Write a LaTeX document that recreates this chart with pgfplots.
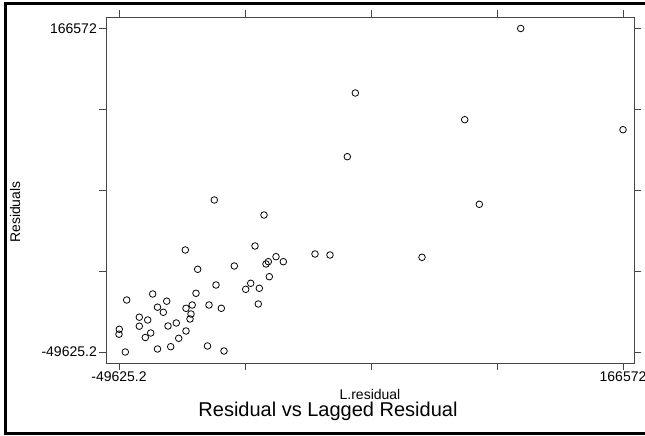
\documentclass[border=0pt]{standalone}
\usepackage{fontspec}
\setmainfont{Liberation Sans}
\usepackage{pgfplots}
\pgfplotsset{compat=1.18}
\definecolor{axgray}{RGB}{70,70,70}

\begin{document}
\begin{tikzpicture}[x=1bp,y=1bp]
\clip (0,0) rectangle (645,436);
\path[use as bounding box] (0,0) rectangle (645,436);
\draw[line width=3bp] (5,2.5) rectangle (660,432.5);
\begin{axis}[at={(106bp,73bp)}, anchor=south west,
  width=528bp, height=346bp, scale only axis,
  xmin=-55201, xmax=171289, ymin=-56977, ymax=174255,
  scaled ticks=false,
  xtick={-49625.2,4424.6,58473.4,112522.2,166572},
  ytick={-49625.2,4424.6,58473.4,112522.2,166572},
  xticklabels={-49625.2,,,,166572},
  yticklabels={-49625.2,,,,166572},
  tick align=outside, xtick pos=both, ytick pos=both,
  major tick length=7bp,
  tick style={axgray, line width=0.8bp},
  axis line style={axgray, line width=0.9bp},
  tick label style={font=\fontsize{14bp}{16bp}\selectfont},
  xticklabel style={inner sep=1.5bp},
  yticklabel style={inner sep=2bp},
  /pgf/number format/assume math mode=true,
  xlabel={L.residual}, ylabel={Residuals},
  every axis x label/.style={at={(axis description cs:0.5,0)}, yshift=-31bp, anchor=center,
    font=\fontsize{14bp}{16bp}\selectfont},
  every axis y label/.style={at={(axis description cs:0,0.436)}, xshift=-91bp, anchor=center, rotate=90,
    font=\fontsize{14bp}{16bp}\selectfont},
  clip=false]
\addplot[only marks, mark=o, mark size=3.3bp, mark options={line width=0.8bp, black}] coordinates {
(122688,166572) (51738,123465) (98666,105621) (166572,98938) (48307,80894)
(104929,49083) (-8745,51957) (12574,41932) (-21185,18542) (8714,21215)
(-15866,5643) (-166,7849) (17722,14065) (13432,9185) (14418,10723)
(20853,10723) (34451,15868) (40886,15200) (80350,13663) (14848,698)
(4724,-7722) (6869,-3713) (10558,-7054) (10129,-17547) (-8016,-4849)
(-16595,-10395) (-11019,-18215) (-5742,-20420) (-46322,-14873) (-35169,-10864)
(-29164,-15675) (-33110,-19685) (-30622,-23093) (-20885,-20420) (-18225,-18215)
(-18740,-24230) (-19169,-27571) (-40917,-26368) (-37314,-28239) (-40917,-32383)
(-28606,-32249) (-25046,-30244) (-49497,-34455) (-49625.2,-37729) (-38343,-39935)
(-36027,-36927) (-20885,-35591) (-24016,-40469) (-33110,-47620) (-27448,-46083)
(-46923,-49625.2) (-11662,-45615) (-4584,-48957)
};
\end{axis}
\node[font=\fontsize{20bp}{23bp}\selectfont] at (328,25) {Residual vs Lagged Residual};
\end{tikzpicture}
\end{document}
